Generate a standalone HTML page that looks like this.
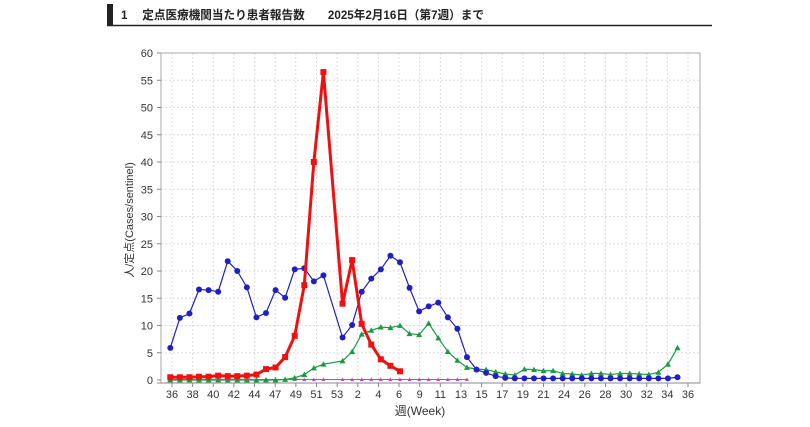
<!DOCTYPE html>
<html><head><meta charset="utf-8"><style>
body{margin:0;background:#fff;width:810px;height:427px;overflow:hidden}
svg{display:block}
text{font-family:"Liberation Sans","Noto Sans CJK JP",sans-serif}
</style></head><body>
<svg id="s" width="810" height="427" xmlns="http://www.w3.org/2000/svg">
<rect x="107" y="4" width="6" height="22" fill="#222"/>
<line x1="107" y1="25.5" x2="712" y2="25.5" stroke="#222" stroke-width="1.5"/>
<text x="121" y="19" font-size="12" font-weight="bold" fill="#222" textLength="363" lengthAdjust="spacingAndGlyphs">1　 定点医療機関当たり患者報告数　　2025年2月16日（第7週）まで</text>
<g id="g"></g>
</svg>
<script>
const NS="http://www.w3.org/2000/svg",g=document.getElementById('g');
function el(t,a,txt){const e=document.createElementNS(NS,t);for(const k in a)e.setAttribute(k,a[k]);if(txt!=null)e.textContent=txt;g.appendChild(e);return e;}
const L=161,R=700,T=53,B=380,k=(B-T)/60;
const X=i=>170.3+9.57*i, Y=v=>B-v*k;
const labs=[36,38,40,42,44,47,49,51,53,2,4,6,9,11,13,15,17,19,21,24,26,28,30,32,34,36];
for(let v=5;v<=60;v+=5)el('line',{x1:L,x2:R,y1:Y(v),y2:Y(v),stroke:'#ddd','stroke-dasharray':'2,2'});
labs.forEach((l,j)=>{const x=172+j*(688-172)/25;el('line',{x1:x,x2:x,y1:T,y2:B,stroke:'#ddd','stroke-dasharray':'2,2'});
el('line',{x1:x,x2:x,y1:383,y2:387,stroke:'#888'});
el('text',{x:x,y:398,'font-size':11,'text-anchor':'middle',fill:'#333'},l);});
el('rect',{x:L,y:T,width:R-L,height:B-T+3,fill:'none',stroke:'#aaa'});
el('line',{x1:L-4,x2:R,y1:383,y2:383,stroke:'#888'});
for(let v=0;v<=60;v+=5){el('line',{x1:L-4,x2:L,y1:Y(v),y2:Y(v),stroke:'#888'});el('text',{x:153,y:Y(v)+4,'font-size':11,'text-anchor':'end',fill:'#333'},v);}
el('text',{x:0,y:0,'font-size':11,fill:'#333','text-anchor':'middle',transform:'translate(133,220) rotate(-90)'},'人/定点(Cases/sentinel)');
el('text',{x:420,y:415,'font-size':12,fill:'#333','text-anchor':'middle'},'週(Week)');
function ser(d,col,w,mk,sz){const p=[];d.forEach((v,i)=>{if(v!=null)p.push([X(i),Y(v)]);});
el('polyline',{points:p.map(q=>q.join(',')).join(' '),fill:'none',stroke:col,'stroke-width':w});
p.forEach(([x,y])=>{if(mk=='c')el('circle',{cx:x,cy:y,r:sz,fill:col});else if(mk=='s')el('rect',{x:x-sz,y:y-sz,width:2*sz,height:2*sz,fill:col});else el('polygon',{points:`${x},${y-sz} ${x-sz},${y+sz*0.8} ${x+sz},${y+sz*0.8}`,fill:col});});}
const N=null;
let mag=[];for(let i=0;i<32;i++)mag.push(i==17?N:0.1);
ser(mag,'#d040d0',1,'t',2);
let green=[0,0,0,0,0,0,0,0,0,0,0,0,0.1,0.4,1.0,2.2,2.9,N,3.5,5.2,8.4,9.1,9.7,9.6,10.0,8.5,8.3,10.4,7.7,5.2,3.6,2.3,2.0,1.9,1.5,1.1,0.9,2.0,1.9,1.7,1.7,1.2,1.1,0.9,1.2,1.2,1.0,1.2,1.2,1.1,1.0,1.4,2.9,5.9];
ser(green,'#1a9a40',1.2,'t',3);
let blue=[5.9,11.4,12.2,16.6,16.5,16.2,21.8,20,17,11.5,12.3,16.5,15.1,20.3,20.5,18.1,19.2,N,7.8,10.1,16.2,18.6,20.3,22.8,21.6,16.9,12.6,13.5,14.2,11.5,9.4,4.2,1.9,1.3,0.7,0.4,0.3,0.3,0.3,0.3,0.3,0.3,0.3,0.3,0.3,0.3,0.3,0.3,0.3,0.3,0.3,0.3,0.3,0.5];
ser(blue,'#2020c0',1.2,'c',3);
let red=[0.5,0.5,0.5,0.6,0.6,0.8,0.7,0.7,0.8,1.0,2.0,2.3,4.2,8.1,17.4,40,56.5,N,14,22,10.3,6.5,3.8,2.6,1.6];
ser(red,'#ee1111',3,'s',3);
</script>
</body></html>
